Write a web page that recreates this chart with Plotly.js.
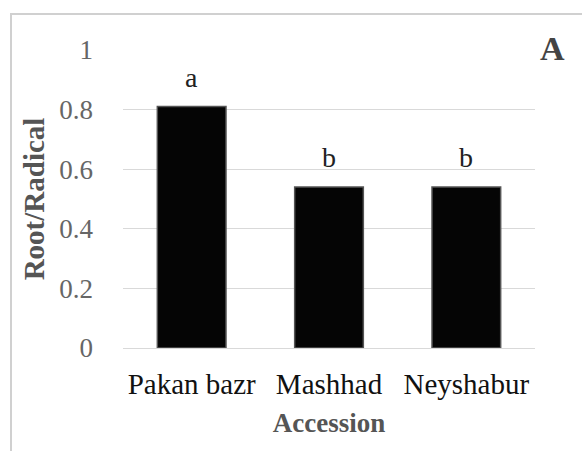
<!DOCTYPE html>
<html>
<head>
<meta charset="utf-8">
<script src="https://cdn.plot.ly/plotly-3.0.1.min.js"></script>
<style>html,body{margin:0;padding:0;background:#fff;}#chart{width:582px;height:451px;}</style>
</head>
<body>
<div id="chart"></div>
<script>
var categories = ["Pakan bazr", "Mashhad", "Neyshabur"];
var values = [0.81, 0.54, 0.54];
var letters = ["a", "b", "b"];
var yTicks = [0, 0.2, 0.4, 0.6, 0.8, 1];
var yTickLabels = ["0", "0.2", "0.4", "0.6", "0.8", "1"];
var panelLabel = "A";

var serif = "Liberation Serif";

var trace = {
  type: "bar",
  x: categories,
  y: values,
  width: 0.5,
  marker: {color: "#050505", line: {color: "#555", width: 1.5}},
  hoverinfo: "none"
};

var annotations = categories.map(function (c, i) {
  return {
    x: c, y: values[i], xref: "x", yref: "y",
    text: letters[i], showarrow: false,
    yanchor: "bottom", yshift: 12,
    font: {family: serif, size: 28, color: "#222"}
  };
});
annotations.push({
  x: 1, y: 1, xref: "paper", yref: "paper", xanchor: "left", yanchor: "middle",
  xshift: 3, yshift: 2, text: "<b>" + panelLabel + "</b>", showarrow: false,
  font: {family: serif, size: 34, color: "#444"}
});

var layout = {
  width: 582, height: 451,
  margin: {l: 123, r: 47, t: 50, b: 103},
  paper_bgcolor: "#fff", plot_bgcolor: "#fff",
  showlegend: false,
  bargap: 0.5,
  font: {family: serif},
  xaxis: {
    type: "category",
    showgrid: false, showline: false, zeroline: false,
    ticks: "", tickfont: {family: serif, size: 29, color: "#111"},
    ticklabelstandoff: 16,
    title: {text: "<b>Accession</b>", font: {family: serif, size: 27, color: "#555"}, standoff: 14}
  },
  yaxis: {
    range: [0, 1],
    tickvals: yTicks, ticktext: yTickLabels,
    showgrid: true, gridcolor: "#d9d9d9", gridwidth: 1,
    zeroline: true, zerolinecolor: "#d9d9d9", zerolinewidth: 1,
    showline: false, ticks: "",
    tickfont: {family: serif, size: 27, color: "#666"},
    ticklabelstandoff: 29,
    title: {text: "<b>Root/Radical</b>", font: {family: serif, size: 29, color: "#555"}, standoff: 6}
  },
  annotations: annotations,
  shapes: [{
    type: "rect", xref: "paper", yref: "paper",
    x0: -112 / 412, x1: 600 / 412, y0: -120 / 298, y1: 1 + 36 / 298,
    line: {color: "#d0d0d0", width: 2}, fillcolor: "rgba(0,0,0,0)", layer: "below"
  }]
};

Plotly.newPlot("chart", [trace], layout, {displayModeBar: false, staticPlot: true});
</script>
</body>
</html>
